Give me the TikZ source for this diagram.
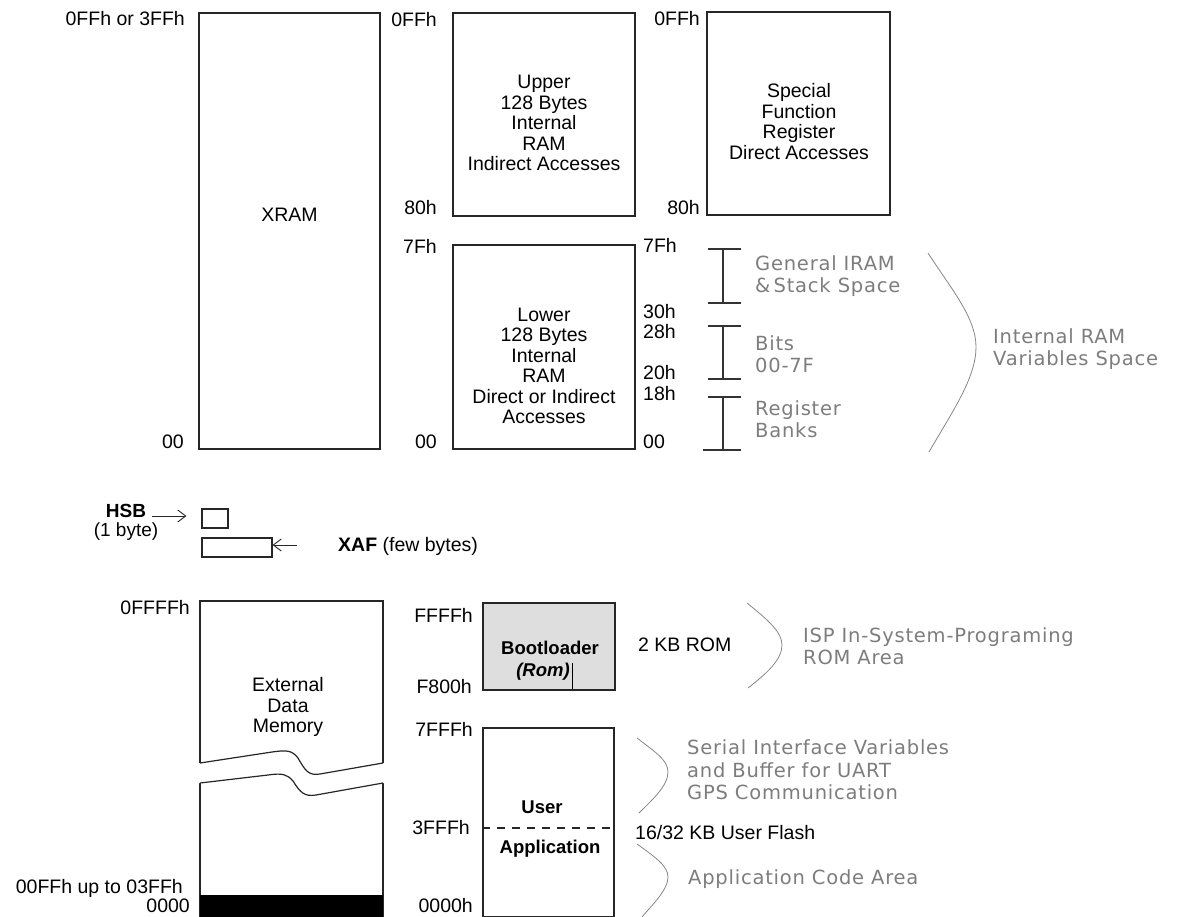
\documentclass[tikz,border=0pt]{standalone}
\usepackage{fontspec}
\setmainfont{Liberation Sans}
\newfontfamily\notefont[LetterSpace=4]{DejaVu Sans}
\usetikzlibrary{arrows.meta}
\definecolor{notegray}{RGB}{125,125,125}
\definecolor{bracegray}{RGB}{135,135,135}
\definecolor{romfill}{RGB}{222,222,222}

\begin{document}
\begin{tikzpicture}[x=1pt, y=-1pt,
    mbox/.style={draw=black!85, line width=1.3pt, inner sep=0pt},
    addr/.style={inner sep=0pt, font=\fontsize{19.5}{20}\selectfont},
    txt/.style={align=center, inner sep=0pt, font=\fontsize{19.5}{20.5}\selectfont},
    btxt/.style={inner sep=0pt, font=\bfseries\fontsize{18.5}{20}\selectfont},
    note/.style={align=left, anchor=west, inner sep=0pt, text=notegray,
        font=\notefont\fontsize{19.5}{22.5}\selectfont},
    rng/.style={draw=black!80, line width=1.2pt},
    brace/.style={draw=bracegray, line width=0.8pt},
    ptr/.style={draw=black!85, line width=0.9pt, -{Straight Barb[length=8pt, width=12pt]}}
  ]
  \useasboundingbox (0,0) rectangle (1177,917);

  % internal data memory
  \node[mbox, minimum width=181, minimum height=436] (xram) at (289.5,231) {};
  \node[txt] (xramtxt) at (289.5,214.5) {XRAM};
  \node[addr, anchor=east] (xramtop) at (185,19) {0FFh or 3FFh};
  \node[addr, anchor=east] (xrambot) at (184,442) {00};

  \node[mbox, minimum width=182, minimum height=203] (upper) at (544,114.5) {};
  \node[txt] (uppertxt) at (544,123) {Upper\\128 Bytes\\Internal\\RAM\\Indirect Accesses};
  \node[addr, anchor=east] (uppertop) at (437,20) {0FFh};
  \node[addr, anchor=east] (upperbot) at (437,208) {80h};

  \node[mbox, minimum width=183, minimum height=203] (sfr) at (798.5,113.5) {};
  \node[txt] (sfrtxt) at (799,121.5) {Special\\Function\\Register\\Direct Accesses};
  \node[addr, anchor=east] (sfrtop) at (700,19) {0FFh};
  \node[addr, anchor=east] (sfrbot) at (700,208) {80h};

  \node[mbox, minimum width=182, minimum height=204] (lower) at (544,347) {};
  \node[txt] (lowertxt) at (544,366) {Lower\\128 Bytes\\Internal\\RAM\\Direct or Indirect\\Accesses};
  \node[addr, anchor=east] (lowertop) at (437,246) {7Fh};
  \node[addr, anchor=east] (lowerbot) at (437,442) {00};
  \foreach \y/\t [count=\i] in {245/7Fh, 312/30h, 332/28h, 373/20h, 394/18h, 442/00}
    \node[addr, anchor=west] (lowr\i) at (643,\y) {\t};

  \foreach \top/\bot/\l in {249/303/708, 326/379/708, 397/450/703}
    \draw[rng] (708,\top) -- (741,\top) (723,\top) -- (723,\bot) (\l,\bot) -- (741,\bot);
  \node[note] (iram) at (755,276) {General IRAM\\\&\,Stack Space};
  \node[note] (bits) at (755,354) {Bits\\00-7F};
  \node[note] (banks) at (755,419) {Register\\Banks};
  \draw[brace] (928,253) .. controls (952,290) and (976,318) .. (976,347)
    .. controls (976,378) and (952,412) .. (929,452);
  \node[note] (ramvars) at (993,349) {Internal RAM\\Variables Space};

  % hsb and xaf
  \node[txt, font=\fontsize{19}{19}\selectfont] (hsbtxt) at (126,522) {\textbf{HSB}\\(1 byte)};
  \node[mbox, line width=1.1pt, minimum width=26, minimum height=19] (hsb) at (215,518.5) {};
  \node[mbox, line width=1.1pt, minimum width=70, minimum height=19] (xaf) at (237,547.5) {};
  \coordinate (hsbtail) at (152,516);
  \coordinate (xaftail) at (297,545);
  \draw[ptr, shorten >=15pt] (hsbtail) -- (hsbtail -| hsb.west);
  \draw[ptr] (xaftail) -- (xaftail -| xaf.east);
  \node[addr, anchor=west] (xaftxt) at (338,546) {\textbf{XAF} (few bytes)};

  % external data memory
  \node[mbox, minimum width=183, minimum height=316] (ext) at (291.5,759) {};
  \fill[white] (198,763) -- (200,763) -- (272,752) .. controls (286,750) and (292,750) .. (298,758)
    .. controls (305,770) and (308,776) .. (320,774) -- (383,763) -- (385,763)
    -- (385,783) -- (383,783) -- (316,795) .. controls (304,797) and (300,792) .. (293,781)
    .. controls (287,774) and (282,773) .. (268,775) -- (200,783) -- (198,783) -- cycle;
  \draw[draw=black!85, line width=1.2pt] (200,763) -- (272,752) .. controls (286,750) and (292,750) .. (298,758)
    .. controls (305,770) and (308,776) .. (320,774) -- (383,763);
  \draw[draw=black!85, line width=1.2pt] (200,783) -- (268,775) .. controls (282,773) and (287,774) .. (293,781)
    .. controls (300,792) and (304,797) .. (316,795) -- (383,783);
  \fill[black] (200,895) rectangle (383,917);
  \node[txt] (exttxt) at (288,707) {External\\Data\\Memory};
  \node[addr, anchor=east] (exttop) at (190,608) {0FFFFh};
  \node[addr, anchor=east] (extlim) at (183,888) {00FFh up to 03FFh};
  \node[addr, anchor=east] (extbot) at (190,906) {0000};

  % code memory
  \node[mbox, fill=romfill, minimum width=132, minimum height=87] (boot) at (549,646.5) {};
  \node[btxt] (boottxt) at (550,648) {Bootloader};
  \node[btxt, font=\bfseries\itshape\fontsize{18.5}{20}\selectfont] (romtxt) at (543,672) {(Rom)};
  \draw[line width=1pt] (romtxt.east) ++(3,-9) -- ++(0,26);
  \node[addr, anchor=east] (boottop) at (473,615) {FFFFh};
  \node[addr, anchor=east] (bootbot) at (472,687) {F800h};
  \node[addr, anchor=west] (romsize) at (638,645) {2 KB ROM};
  \draw[brace] (747,603) .. controls (768,620) and (782,632) .. (782,645)
    .. controls (782,660) and (766,674) .. (748,688);
  \node[note] (isp) at (803,646) {ISP In-System-Programing\\ROM Area};

  \node[mbox, minimum width=131, minimum height=189] (user) at (548.5,822.5) {};
  \node[btxt] (usertxt) at (542,807) {User};
  \node[btxt] (apptxt) at (550,849) {Application};
  \node[addr, anchor=east] (usertop) at (473,729) {7FFFh};
  \node[addr, anchor=east] (usermid) at (470,828) {3FFFh};
  \node[addr, anchor=east] (userbot) at (473,906) {0000h};
  \draw[draw=black!85, line width=1.1pt, dash pattern=on 8pt off 7pt] (user.west |- usermid) -- (user.east |- usermid);
  \node[addr, anchor=west] (flash) at (635,833) {16/32 KB User Flash};
  \draw[brace] (637,738) .. controls (655,752) and (668,760) .. (668,772)
    .. controls (668,786) and (652,800) .. (639,813);
  \node[note] (serial) at (687,770) {Serial Interface Variables\\and Buffer for UART\\GPS Communication};
  \draw[brace] (637,844) .. controls (655,857) and (668,866) .. (668,877)
    .. controls (668,890) and (652,905) .. (642,917);
  \node[note] (appcode) at (688,879) {Application Code Area};
\end{tikzpicture}
\end{document}
